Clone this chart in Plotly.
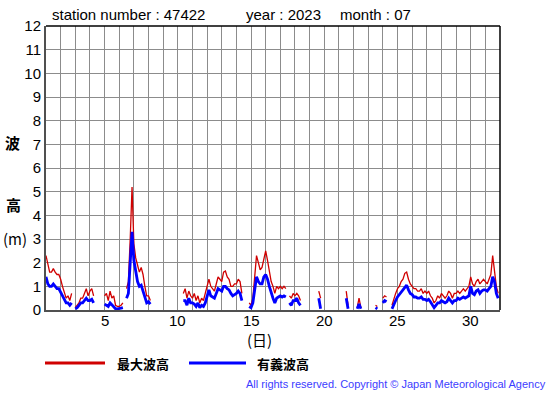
import plotly.graph_objects as go

# 3-hourly readings (00,03,...,21 h) for each day of July 2023; None = missing
hours = [0, 3, 6, 9, 12, 15, 18, 21]
N = None
max_wave = {
    1: [2.3, 2.0, 1.6, 1.6, 1.75, 1.6, 1.5, 1.5],
    2: [1.3, 1.0, 0.7, 0.5, 0.6, 0.4, 0.7, N],
    3: [0.1, 0.2, 0.3, 0.5, 0.5, 0.7, 0.9, 0.6],
    4: [0.8, 0.9, 0.6, N, N, N, N, N],
    5: [0.6, 0.7, 0.4, 0.8, 0.5, 0.6, 0.2, 0.15],
    6: [0.15, 0.2, 0.3, N, 0.9, 1.2, 3.0, 5.2],
    7: [2.8, 2.2, 1.9, 1.6, 1.8, 1.5, 1.0, 0.6],
    8: [0.6, 0.4, N, 0.5, N, 0.5, N, N],
    9: [0.4, N, 0.35, N, N, N, N, 0.6],
    10: [N, N, N, 0.7, 0.9, 0.5, 0.8, 0.6],
    11: [0.5, 0.7, 0.4, 0.6, 0.3, 0.5, 0.4, 0.7],
    12: [1.0, 1.3, 1.0, 0.9, 0.8, 1.1, 1.4, 1.3],
    13: [1.2, 1.6, 1.65, 1.4, 1.3, 1.0, 1.0, 1.1],
    14: [1.1, 1.3, 1.2, 0.7, N, 0.4, N, 0.3],
    15: [0.2, 0.5, 1.3, 2.3, 2.0, 1.7, 1.8, 2.2],
    16: [2.5, 2.1, 1.7, 1.2, 1.0, 0.7, 1.0, 0.9],
    17: [1.0, 0.9, 1.0, 0.9, N, 0.6, 0.5, 0.7],
    18: [0.6, 0.7, 0.6, 0.4, N, N, 0.6, N],
    19: [0.6, N, N, N, N, 0.8, 0.5, N],
    20: [N, N, N, N, N, N, N, N],
    21: [0.1, N, N, N, 0.8, 0.2, N, N],
    22: [N, N, 0.1, 0.5, 0.1, N, N, N],
    23: [N, N, N, N, 0.2, 0.15, N, N],
    24: [0.5, 0.6, 0.55, N, N, 0.2, 0.5, 0.7],
    25: [0.9, 1.0, 1.2, 1.3, 1.55, 1.6, 1.3, 1.1],
    26: [1.0, 0.9, 0.9, 0.8, 0.8, 0.9, 0.7, 0.8],
    27: [0.7, 0.8, 0.6, 0.5, 0.3, 0.4, 0.6, 0.5],
    28: [0.7, 0.6, 0.5, 0.6, 0.8, 0.7, 0.5, 0.7],
    29: [0.7, 0.8, 0.7, 0.8, 0.9, 0.8, 0.9, 1.0],
    30: [1.4, 1.1, 1.0, 1.2, 1.3, 1.1, 1.2, 1.3],
    31: [1.2, 1.1, 1.3, 1.5, 2.3, 1.7, 1.0, 0.7],
}
sig_wave = {
    1: [1.4, 1.1, 1.0, 1.0, 1.1, 1.0, 0.9, 0.9],
    2: [0.75, 0.6, 0.4, 0.3, 0.3, 0.2, 0.3, N],
    3: [0.05, 0.1, 0.2, 0.3, 0.3, 0.4, 0.5, 0.4],
    4: [0.4, 0.45, 0.3, N, N, N, N, N],
    5: [0.25, 0.2, 0.15, 0.3, 0.2, 0.15, 0.05, 0.05],
    6: [0.05, 0.08, 0.1, N, 0.5, 0.7, 2.0, 3.3],
    7: [2.1, 1.6, 1.2, 1.0, 1.05, 0.8, 0.5, 0.3],
    8: [0.35, 0.25, N, 0.3, N, 0.3, N, N],
    9: [0.2, N, 0.2, N, N, N, N, 0.35],
    10: [N, N, N, 0.4, 0.4, 0.2, 0.5, 0.3],
    11: [0.3, 0.25, 0.15, 0.3, 0.1, 0.2, 0.15, 0.3],
    12: [0.6, 0.85, 0.6, 0.55, 0.5, 0.7, 0.9, 0.85],
    13: [0.8, 1.0, 1.0, 0.9, 0.85, 0.7, 0.6, 0.65],
    14: [0.7, 0.8, 0.7, 0.4, N, 0.2, N, 0.15],
    15: [0.1, 0.3, 0.9, 1.4, 1.2, 1.1, 1.1, 1.4],
    16: [1.5, 1.3, 1.0, 0.7, 0.5, 0.3, 0.5, 0.55],
    17: [0.6, 0.55, 0.6, 0.55, N, 0.3, 0.2, 0.4],
    18: [0.4, 0.5, 0.3, 0.2, N, N, 0.35, N],
    19: [0.35, N, N, N, N, 0.5, 0.05, N],
    20: [N, N, N, N, N, N, N, N],
    21: [0.05, N, N, N, 0.5, 0.05, N, N],
    22: [N, N, 0.05, 0.25, 0.05, N, N, N],
    23: [N, N, N, N, 0.1, 0.05, N, N],
    24: [0.3, 0.4, 0.35, N, N, 0.05, 0.25, 0.4],
    25: [0.55, 0.65, 0.75, 0.85, 1.0, 1.05, 0.85, 0.7],
    26: [0.65, 0.55, 0.55, 0.5, 0.5, 0.55, 0.45, 0.45],
    27: [0.4, 0.45, 0.35, 0.25, 0.1, 0.2, 0.3, 0.3],
    28: [0.4, 0.35, 0.3, 0.35, 0.5, 0.4, 0.3, 0.4],
    29: [0.4, 0.5, 0.45, 0.5, 0.55, 0.5, 0.55, 0.6],
    30: [1.0, 0.7, 0.65, 0.8, 0.85, 0.7, 0.8, 0.85],
    31: [0.85, 0.8, 0.9, 1.0, 1.4, 1.2, 0.7, 0.5],
}
x_ticks = [5, 10, 15, 20, 25, 30]
y_ticks = list(range(0, 13))

t, red, blue = [], [], []
for d in sorted(max_wave):
    for i, h in enumerate(hours):
        t.append(d + h / 24)
        red.append(max_wave[d][i])
        blue.append(sig_wave[d][i])

fig = go.Figure()
fig.add_trace(go.Scatter(x=t, y=red, mode="lines", line=dict(color="#d00000", width=1.3),
                         connectgaps=False, showlegend=False))
fig.add_trace(go.Scatter(x=t, y=blue, mode="lines", line=dict(color="#0000ff", width=2.8),
                         connectgaps=False, showlegend=False))

L, R, T, B = 46, 500, 26, 310
W, H = 555, 395
def px(p): return (p - L) / (R - L)
def py(p): return (B - p) / (B - T)

fig.update_layout(
    width=W, height=H,
    margin=dict(l=L, r=W - R, t=T, b=H - B, pad=0),
    paper_bgcolor="white", plot_bgcolor="white",
    font=dict(family="Liberation Sans, Arial", size=15, color="black"),
    xaxis=dict(range=[1, 32], tickvals=x_ticks, showticklabels=False,
               showgrid=True, gridcolor="#8c8c8c", gridwidth=1,
               minor=dict(dtick=1, tick0=1, showgrid=True, gridcolor="#8c8c8c", gridwidth=1),
               showline=True, linecolor="#505050", linewidth=2, mirror=False,
               ticks="", zeroline=False, fixedrange=True),
    yaxis=dict(range=[0, 12], tickvals=y_ticks, showgrid=True, gridcolor="#8c8c8c", gridwidth=1,
               showline=True, linecolor="#505050", linewidth=2, ticks="",
               tickfont=dict(size=15), zeroline=False, fixedrange=True),
)
# top/right frame
fig.add_shape(type="line", xref="paper", yref="paper", x0=0, x1=1, y0=1, y1=1,
              line=dict(color="black", width=1.5))
fig.add_shape(type="line", xref="paper", yref="paper", x0=1, x1=1, y0=0, y1=1,
              line=dict(color="black", width=1.5))

ann = []
def txt(x, y, s, size=15, color="black", xanchor="center", family="Liberation Sans, Arial"):
    ann.append(dict(x=px(x), y=py(y), xref="paper", yref="paper", text=s, showarrow=False,
                    xanchor=xanchor, yanchor="middle", font=dict(size=size, color=color, family=family)))

# x tick labels placed on the data scale
for v in x_ticks:
    ann.append(dict(x=v, y=py(320), xref="x", yref="paper", text=str(v), showarrow=False,
                    xanchor="center", yanchor="middle",
                    font=dict(size=15, color="black", family="Liberation Sans, Arial")))

txt(50, 15, "station number : 47422", xanchor="left")
txt(244, 15, "year : 2023", xanchor="left")
txt(338, 15, "month : 07", xanchor="left")
cjk = "Noto Sans CJK JP"
txt(12, 142, "<b>波</b>", size=15, family=cjk)
txt(13, 205, "<b>高</b>", size=15, family=cjk)
txt(15, 238, "(m)", size=15, family=cjk)
txt(259, 339, "(日)", size=15, family=cjk)
txt(115, 363, "<b>最大波高</b>", size=13, family=cjk, xanchor="left")
txt(255, 363, "<b>有義波高</b>", size=13, family=cjk, xanchor="left")
txt(548, 384, "All rights reserved. Copyright © Japan Meteorological Agency", size=11,
    color="#3c3cff", xanchor="right")
fig.update_layout(annotations=ann)

fig.add_shape(type="line", xref="paper", yref="paper", x0=px(45), x1=px(105), y0=py(363), y1=py(363),
              line=dict(color="#d00000", width=3))
fig.add_shape(type="line", xref="paper", yref="paper", x0=px(189), x1=px(246), y0=py(363), y1=py(363),
              line=dict(color="#0000ff", width=3))

fig.write_html("out.html", config={"displayModeBar": False},
               post_script="document.body.style.margin='0';document.body.style.padding='0';")
